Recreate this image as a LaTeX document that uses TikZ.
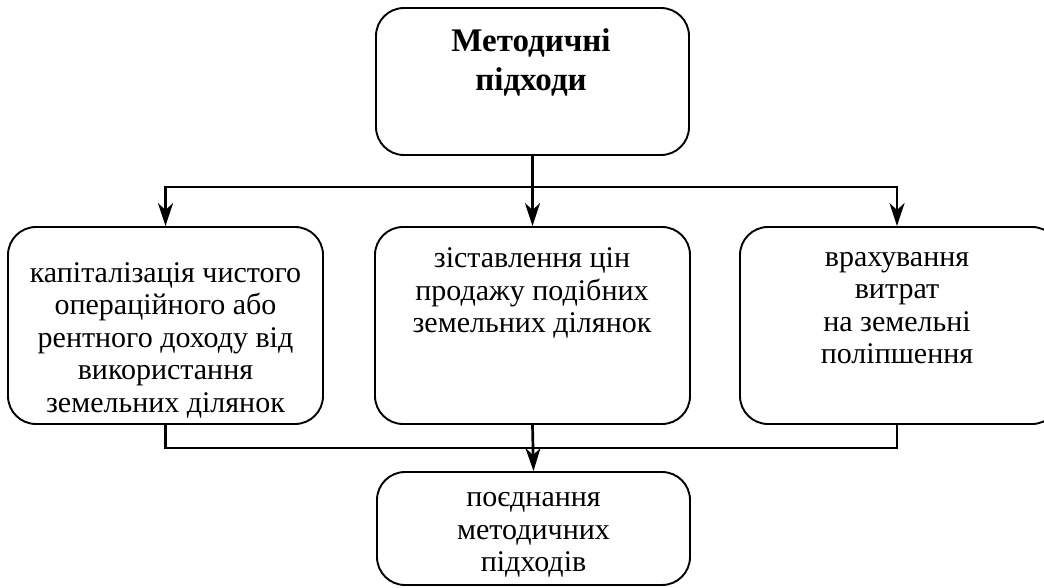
\documentclass[tikz,border=0pt]{standalone}
\usepackage{fontspec}
\setmainfont{Liberation Serif}
\usetikzlibrary{arrows.meta}
\tikzset{
  box/.style={draw, line width=1.9pt, rounded corners=28pt, inner sep=0pt},
  txt/.style={align=center, inner sep=0pt, font=\fontsize{30}{32.5}\selectfont},
  ttl/.style={align=center, inner sep=0pt, font=\bfseries\fontsize{33}{39}\selectfont},
  conn/.style={line width=2.7pt},
  arr/.style={-{Stealth[length=23pt,width=15pt,inset=7pt]}}
}
\begin{document}
\begin{tikzpicture}[x=1pt,y=-1pt]
\useasboundingbox (0,0) rectangle (1044,587);
\clip (0,0) rectangle (1044,587);
% boxes
\node[box, minimum width=313pt, minimum height=147pt] (T) at (532.5,81.5) {};
\node[box, minimum width=315pt, minimum height=197pt] (L) at (165.5,325.5) {};
\node[box, minimum width=315pt, minimum height=197pt] (M) at (532.5,325.5) {};
\node[box, minimum width=320pt, minimum height=197pt] (R) at (900,325.5) {};
\node[box, minimum width=313pt, minimum height=113pt] (B) at (533.5,528.5) {};
% texts
\node[ttl] (tT) at (531,62.5) {Методичні\\підходи};
\node[txt] (tL) at (165.5,340) {капіталізація чистого\\операційного або\\рентного доходу від\\використання\\земельних ділянок};
\node[txt] (tM) at (532,293) {зіставлення цін\\продажу подібних\\земельних ділянок};
\node[txt] (tR) at (897,308) {врахування\\витрат\\на земельні\\поліпшення};
\node[txt] (tB) at (533.5,535) {поєднання\\методичних\\підходів};
% junctions
\coordinate (j1) at (532.5,187);
\coordinate (j2) at (532.5,448);
\coordinate (rx) at (897,0);
% connectors
\draw[conn] (T.south) -- (j1);
\draw[conn,arr] (j1) -| (L.north);
\draw[conn,arr] (j1) -| (rx |- R.north);
\draw[conn,arr] (j1) -- (M.north);
\draw[conn] (L.south) |- (j2);
\draw[conn] (rx |- R.south) |- (j2);
\draw[conn,arr] (M.south) -- (B.north);
\end{tikzpicture}
\end{document}
